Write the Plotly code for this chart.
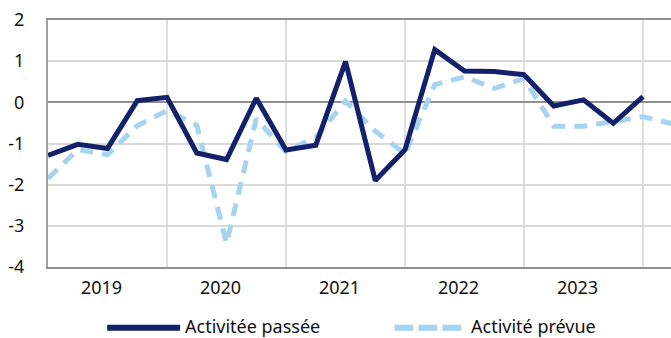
import plotly.graph_objects as go

# Quarterly survey balances (index 0 = 2019 Q1)
quarters = list(range(22))
activite_passee = [-1.29, -1.02, -1.12, 0.04, 0.12, -1.23, -1.39, 0.10,
                   -1.16, -1.04, 0.99, -1.90, -1.15, 1.28, 0.76, 0.75,
                   0.67, -0.09, 0.06, -0.51, 0.14]
activite_prevue = [-1.85, -1.15, -1.27, -0.57, -0.20, -0.55, -3.43, -0.40,
                   -1.20, -0.85, 0.03, -0.70, -1.25, 0.43, 0.62, 0.34,
                   0.58, -0.58, -0.58, -0.45, -0.35, -0.52]
years = ["2019", "2020", "2021", "2022", "2023"]
year_label_pos = [1.8, 5.8, 9.8, 13.8, 17.8]
y_ticks = [-4, -3, -2, -1, 0, 1, 2]
y_tick_text = ["-4", "-3", "-2", "-1", "0", "1", "2"]
name_passee = "Activitée passée"
name_prevue = "Activité prévue"

NAVY = "#13216a"
LIGHT = "#a6d3f0"
FONT = "Noto Sans, DejaVu Sans, sans-serif"
LEGEND_Y = -0.238

fig = go.Figure()
fig.add_trace(go.Scatter(
    x=quarters[:len(activite_prevue)], y=activite_prevue, mode="lines",
    name=name_prevue, line=dict(color=LIGHT, width=5, dash="13px,9px"),
))
fig.add_trace(go.Scatter(
    x=quarters[:len(activite_passee)], y=activite_passee, mode="lines",
    name=name_passee, line=dict(color=NAVY, width=5),
))

# Hand-drawn legend below the plot area
fig.add_shape(type="line", xref="paper", yref="paper",
              x0=0.095, x1=0.212, y0=LEGEND_Y - 0.008, y1=LEGEND_Y - 0.008,
              line=dict(color=NAVY, width=6))
fig.add_shape(type="line", xref="paper", yref="paper",
              x0=0.556, x1=0.665, y0=LEGEND_Y - 0.008, y1=LEGEND_Y - 0.008,
              line=dict(color=LIGHT, width=6, dash="19px,5px"))
fig.add_annotation(text=name_passee, xref="paper", yref="paper",
                   x=0.219, y=LEGEND_Y, xanchor="left", yanchor="middle",
                   showarrow=False, borderpad=0,
                   font=dict(family=FONT, size=18, color="#111"))
fig.add_annotation(text=name_prevue, xref="paper", yref="paper",
                   x=0.677, y=LEGEND_Y, xanchor="left", yanchor="middle",
                   showarrow=False, borderpad=0,
                   font=dict(family=FONT, size=18, color="#111"))

fig.update_layout(
    width=671, height=338,
    margin=dict(l=48, r=0, t=20, b=71),
    paper_bgcolor="white", plot_bgcolor="white",
    showlegend=False,
    font=dict(family=FONT, size=18, color="#111"),
)
fig.update_xaxes(
    range=[0, 20.94],
    tickvals=year_label_pos, ticktext=years,
    showgrid=False, zeroline=False,
    showline=True, linecolor="#8f8f8f", linewidth=2, mirror=True,
    ticks="", ticklabelstandoff=3,
    minor=dict(tick0=0, dtick=4, showgrid=True, gridcolor="#dedede", gridwidth=1.5),
)
fig.update_yaxes(
    range=[-4, 2], tickvals=y_ticks, ticktext=y_tick_text,
    showgrid=True, gridcolor="#d9d9d9", gridwidth=2,
    zeroline=True, zerolinecolor="#8f8f8f", zerolinewidth=2,
    showline=True, linecolor="#a0a0a0", linewidth=2,
    ticks="", ticklabelstandoff=18,
)

fig.write_html("out.html")
